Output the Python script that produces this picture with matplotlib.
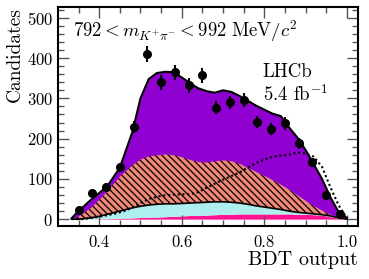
import numpy as np
import matplotlib
matplotlib.use("Agg")
import matplotlib.pyplot as plt

plt.rcParams["font.family"] = "serif"
plt.rcParams["font.serif"] = ["cmr10", "DejaVu Serif"]
plt.rcParams["mathtext.fontset"] = "cm"
plt.rcParams["axes.unicode_minus"] = False
plt.rcParams["axes.formatter.use_mathtext"] = True
plt.rcParams["hatch.linewidth"] = 0.9

# data points (bin centres, 20 bins from 1/3 to 1)
bdt_x = [0.35 + k / 30 for k in range(20)]
counts = [22, 64, 80, 129, 228, 410, 340, 365, 332, 357,
          277, 290, 296, 241, 225, 238, 188, 141, 61, 12]

# fit components, stacked from bottom to top
fit_x = [0.333, 0.35, 0.38, 0.40, 0.42, 0.45, 0.48, 0.50, 0.52, 0.54, 0.56,
         0.58, 0.60, 0.62, 0.64, 0.66, 0.68, 0.70, 0.72, 0.74, 0.76, 0.78,
         0.80, 0.82, 0.84, 0.86, 0.88, 0.90, 0.92, 0.94, 0.96, 0.98, 1.0]
comp_pink = [0, 0, 0, 1, 1, 2, 3, 4, 5, 5, 6, 7, 8, 9, 9, 10, 11, 12, 12, 13,
             13, 13, 13, 13, 13, 13, 12, 12, 11, 10, 6, 2, 0]
comp_cyan = [0, 0, 3, 6, 11, 18, 25, 28, 30, 32, 32, 31, 31, 31, 32, 32, 32,
             31, 30, 27, 24, 20, 17, 14, 11, 7, 5, 3, 2, 1, 2, 1, 0]
comp_orange = [0, 8, 27, 43, 60, 88, 107, 118, 122, 123, 124, 122, 116, 108,
               102, 100, 102, 104, 103, 98, 91, 85, 78, 71, 62, 54, 43, 31,
               20, 11, 4, 1, 0]
comp_purple = [2, 12, 18, 15, 10, 20, 80, 150, 191, 203, 204, 205, 197, 190,
               182, 176, 169, 173, 171, 168, 166, 164, 164, 164, 170, 154,
               143, 126, 103, 78, 43, 14, 3]
# signal-like shape drawn as dotted line
dotted_x = [0.333, 0.36, 0.40, 0.44, 0.46, 0.48, 0.50, 0.52, 0.55, 0.58, 0.62,
            0.64, 0.66, 0.68, 0.70, 0.72, 0.74, 0.76, 0.78, 0.80, 0.82, 0.84,
            0.86, 0.88, 0.90, 0.92, 0.94, 0.96, 0.98, 1.0]
dotted_y = [0, 0, 6, 14, 20, 28, 40, 50, 58, 61, 62, 67, 78, 88, 98, 107, 116,
            128, 139, 148, 155, 158, 160, 166, 163, 155, 130, 80, 35, 2]

fx = np.array(fit_x)
b1 = np.array(comp_pink, dtype=float)
b2 = b1 + np.array(comp_cyan)
b3 = b2 + np.array(comp_orange)
b4 = b3 + np.array(comp_purple)

fig = plt.figure(figsize=(3.69, 2.79), dpi=100)
ax = fig.add_axes([0.157, 0.19, 0.813, 0.785])

ax.fill_between(fx, 0, b1, color="#ff1493", lw=0)
ax.fill_between(fx, b1, b2, color="#aeeeee", lw=0)
ax.fill_between(fx, b2, b3, facecolor="#f08878", edgecolor="black",
                hatch="\\\\\\\\\\", lw=0)
ax.fill_between(fx, b3, b4, color="#9000d0", lw=0)
ax.plot(fx, b2, color="black", lw=1.2)
ax.plot(fx, b4, color="black", lw=1.5)
ax.plot(dotted_x, dotted_y, color="black", lw=1.5, ls=(0, (1, 1.3)))

ax.errorbar(bdt_x, counts, yerr=np.sqrt(counts), fmt="o", color="black",
            ms=5.5, elinewidth=1.5, capsize=0)

ax.set_xlim(0.3, 1.027)
ax.set_ylim(-17, 527)
ax.set_xticks([0.4, 0.6, 0.8, 1.0])
ax.set_xticks(np.arange(0.35, 1.01, 0.05), minor=True)
ax.set_yticks([0, 100, 200, 300, 400, 500])
ax.set_yticks(np.arange(0, 521, 20), minor=True)
ax.set_xticklabels(["0.4", "0.6", "0.8", "1.0"])
ax.tick_params(which="both", direction="in", top=True, right=True,
               labelsize=12, color="#555555")
ax.tick_params(which="major", length=8, width=1)
ax.tick_params(which="minor", length=4, width=1)
ax.tick_params(axis="x", pad=6)
for s in ax.spines.values():
    s.set_linewidth(1.5)

ax.set_ylabel("Candidates", fontsize=14, loc="top", labelpad=2)
ax.set_xlabel("BDT output", fontsize=14.5, loc="right", labelpad=1)

ax.text(0.05, 0.863, r"$792 < m_{K^{+}\pi^{-}} < 992\ \mathrm{MeV}/c^{2}$",
        transform=ax.transAxes, fontsize=13.5, va="baseline")
ax.text(0.683, 0.68, "LHCb", transform=ax.transAxes, fontsize=13.5,
        va="baseline")
ax.text(0.683, 0.571, r"5.4 fb$^{-1}$", transform=ax.transAxes,
        fontsize=13.5, va="baseline")

fig.savefig("out.png", dpi=100)
